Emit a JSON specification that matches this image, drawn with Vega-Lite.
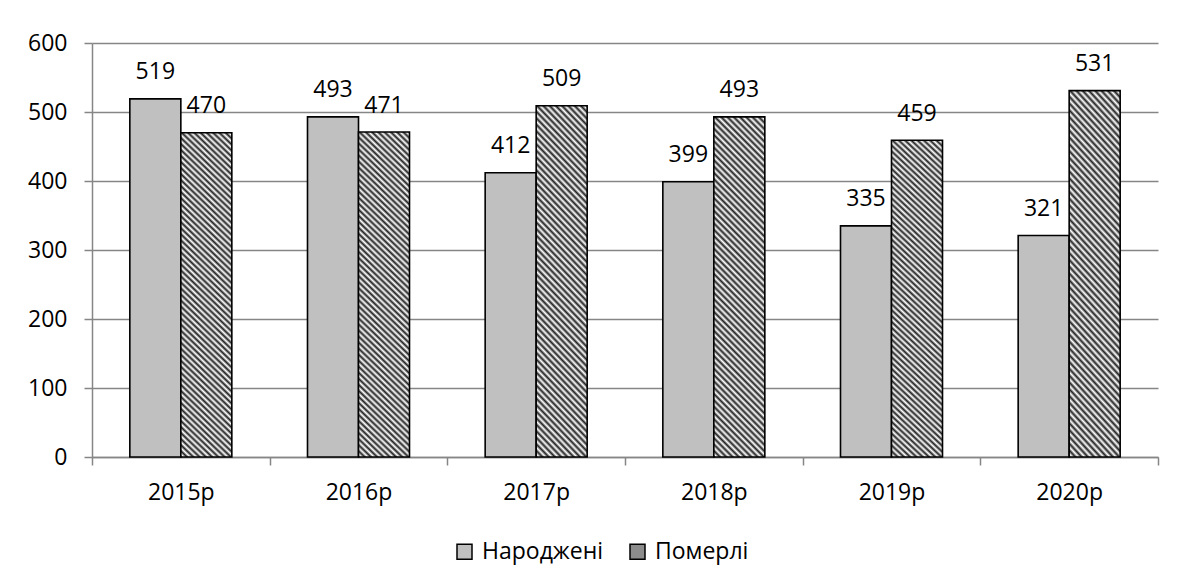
{
  "$schema": "https://vega.github.io/schema/vega-lite/v6.json",
  "width": 1066,
  "height": 414,
  "autosize": {"type": "none"},
  "padding": {"left": 92, "top": 43, "right": 19, "bottom": 126},
  "background": "white",
  "config": {"font": "Open Sans", "view": {"stroke": null}},
  "data": {
    "values": [
      {"year": "2015р", "s": "Народжені", "v": 519},
      {"year": "2015р", "s": "Померлі", "v": 470},
      {"year": "2016р", "s": "Народжені", "v": 493},
      {"year": "2016р", "s": "Померлі", "v": 471},
      {"year": "2017р", "s": "Народжені", "v": 412},
      {"year": "2017р", "s": "Померлі", "v": 509},
      {"year": "2018р", "s": "Народжені", "v": 399},
      {"year": "2018р", "s": "Померлі", "v": 493},
      {"year": "2019р", "s": "Народжені", "v": 335},
      {"year": "2019р", "s": "Померлі", "v": 459},
      {"year": "2020р", "s": "Народжені", "v": 321},
      {"year": "2020р", "s": "Померлі", "v": 531}
    ]
  },
  "encoding": {
    "x": {
      "field": "year", "type": "ordinal", "sort": null,
      "scale": {"paddingInner": 0, "paddingOuter": 0},
      "axis": {
        "title": null, "labelAngle": 0, "labelFontSize": 23, "labelColor": "black",
        "domainColor": "#868686", "domainWidth": 1.5, "tickColor": "#868686", "tickWidth": 1.5,
        "tickSize": 8, "tickBand": "extent", "labelPadding": 16, "grid": false
      }
    },
    "xOffset": {
      "field": "s", "type": "nominal", "sort": ["Народжені", "Померлі"],
      "scale": {"paddingInner": 0, "paddingOuter": 0.7418}
    },
    "y": {
      "field": "v", "type": "quantitative",
      "scale": {"domain": [0, 600], "nice": false},
      "axis": {
        "title": null, "values": [0, 100, 200, 300, 400, 500, 600],
        "labelFontSize": 23, "labelColor": "black",
        "domainColor": "#868686", "domainWidth": 1.5, "tickColor": "#868686", "tickWidth": 1.5,
        "tickSize": 8, "labelPadding": 17,
        "grid": true, "gridColor": "#868686", "gridWidth": 1.5
      }
    }
  },
  "layer": [
    {
      "mark": {"type": "bar", "stroke": "black", "strokeWidth": 1.6},
      "encoding": {
        "fill": {
          "condition": {
            "test": "datum.s === 'Померлі'",
            "value": {
              "gradient": "linear", "x1": 0, "y1": 1, "x2": 0.1703, "y2": -0.1256,
              "stops": [
                {"offset": 0, "color": "#222"}, {"offset": 0.0081, "color": "#fff"},
                {"offset": 0.0161, "color": "#222"}, {"offset": 0.0242, "color": "#fff"},
                {"offset": 0.0323, "color": "#222"}, {"offset": 0.0403, "color": "#fff"},
                {"offset": 0.0484, "color": "#222"}, {"offset": 0.0565, "color": "#fff"},
                {"offset": 0.0645, "color": "#222"}, {"offset": 0.0726, "color": "#fff"},
                {"offset": 0.0806, "color": "#222"}, {"offset": 0.0887, "color": "#fff"},
                {"offset": 0.0968, "color": "#222"}, {"offset": 0.1048, "color": "#fff"},
                {"offset": 0.1129, "color": "#222"}, {"offset": 0.121, "color": "#fff"},
                {"offset": 0.129, "color": "#222"}, {"offset": 0.1371, "color": "#fff"},
                {"offset": 0.1452, "color": "#222"}, {"offset": 0.1532, "color": "#fff"},
                {"offset": 0.1613, "color": "#222"}, {"offset": 0.1694, "color": "#fff"},
                {"offset": 0.1774, "color": "#222"}, {"offset": 0.1855, "color": "#fff"},
                {"offset": 0.1935, "color": "#222"}, {"offset": 0.2016, "color": "#fff"},
                {"offset": 0.2097, "color": "#222"}, {"offset": 0.2177, "color": "#fff"},
                {"offset": 0.2258, "color": "#222"}, {"offset": 0.2339, "color": "#fff"},
                {"offset": 0.2419, "color": "#222"}, {"offset": 0.25, "color": "#fff"},
                {"offset": 0.2581, "color": "#222"}, {"offset": 0.2661, "color": "#fff"},
                {"offset": 0.2742, "color": "#222"}, {"offset": 0.2823, "color": "#fff"},
                {"offset": 0.2903, "color": "#222"}, {"offset": 0.2984, "color": "#fff"},
                {"offset": 0.3065, "color": "#222"}, {"offset": 0.3145, "color": "#fff"},
                {"offset": 0.3226, "color": "#222"}, {"offset": 0.3306, "color": "#fff"},
                {"offset": 0.3387, "color": "#222"}, {"offset": 0.3468, "color": "#fff"},
                {"offset": 0.3548, "color": "#222"}, {"offset": 0.3629, "color": "#fff"},
                {"offset": 0.371, "color": "#222"}, {"offset": 0.379, "color": "#fff"},
                {"offset": 0.3871, "color": "#222"}, {"offset": 0.3952, "color": "#fff"},
                {"offset": 0.4032, "color": "#222"}, {"offset": 0.4113, "color": "#fff"},
                {"offset": 0.4194, "color": "#222"}, {"offset": 0.4274, "color": "#fff"},
                {"offset": 0.4355, "color": "#222"}, {"offset": 0.4435, "color": "#fff"},
                {"offset": 0.4516, "color": "#222"}, {"offset": 0.4597, "color": "#fff"},
                {"offset": 0.4677, "color": "#222"}, {"offset": 0.4758, "color": "#fff"},
                {"offset": 0.4839, "color": "#222"}, {"offset": 0.4919, "color": "#fff"},
                {"offset": 0.5, "color": "#222"}, {"offset": 0.5081, "color": "#fff"},
                {"offset": 0.5161, "color": "#222"}, {"offset": 0.5242, "color": "#fff"},
                {"offset": 0.5323, "color": "#222"}, {"offset": 0.5403, "color": "#fff"},
                {"offset": 0.5484, "color": "#222"}, {"offset": 0.5565, "color": "#fff"},
                {"offset": 0.5645, "color": "#222"}, {"offset": 0.5726, "color": "#fff"},
                {"offset": 0.5806, "color": "#222"}, {"offset": 0.5887, "color": "#fff"},
                {"offset": 0.5968, "color": "#222"}, {"offset": 0.6048, "color": "#fff"},
                {"offset": 0.6129, "color": "#222"}, {"offset": 0.621, "color": "#fff"},
                {"offset": 0.629, "color": "#222"}, {"offset": 0.6371, "color": "#fff"},
                {"offset": 0.6452, "color": "#222"}, {"offset": 0.6532, "color": "#fff"},
                {"offset": 0.6613, "color": "#222"}, {"offset": 0.6694, "color": "#fff"},
                {"offset": 0.6774, "color": "#222"}, {"offset": 0.6855, "color": "#fff"},
                {"offset": 0.6935, "color": "#222"}, {"offset": 0.7016, "color": "#fff"},
                {"offset": 0.7097, "color": "#222"}, {"offset": 0.7177, "color": "#fff"},
                {"offset": 0.7258, "color": "#222"}, {"offset": 0.7339, "color": "#fff"},
                {"offset": 0.7419, "color": "#222"}, {"offset": 0.75, "color": "#fff"},
                {"offset": 0.7581, "color": "#222"}, {"offset": 0.7661, "color": "#fff"},
                {"offset": 0.7742, "color": "#222"}, {"offset": 0.7823, "color": "#fff"},
                {"offset": 0.7903, "color": "#222"}, {"offset": 0.7984, "color": "#fff"},
                {"offset": 0.8065, "color": "#222"}, {"offset": 0.8145, "color": "#fff"},
                {"offset": 0.8226, "color": "#222"}, {"offset": 0.8306, "color": "#fff"},
                {"offset": 0.8387, "color": "#222"}, {"offset": 0.8468, "color": "#fff"},
                {"offset": 0.8548, "color": "#222"}, {"offset": 0.8629, "color": "#fff"},
                {"offset": 0.871, "color": "#222"}, {"offset": 0.879, "color": "#fff"},
                {"offset": 0.8871, "color": "#222"}, {"offset": 0.8952, "color": "#fff"},
                {"offset": 0.9032, "color": "#222"}, {"offset": 0.9113, "color": "#fff"},
                {"offset": 0.9194, "color": "#222"}, {"offset": 0.9274, "color": "#fff"},
                {"offset": 0.9355, "color": "#222"}, {"offset": 0.9435, "color": "#fff"},
                {"offset": 0.9516, "color": "#222"}, {"offset": 0.9597, "color": "#fff"},
                {"offset": 0.9677, "color": "#222"}, {"offset": 0.9758, "color": "#fff"},
                {"offset": 0.9839, "color": "#222"}, {"offset": 0.9919, "color": "#fff"},
                {"offset": 1, "color": "#222"}
              ]
            }
          },
          "field": "s", "type": "nominal", "sort": ["Народжені", "Померлі"],
          "scale": {"range": ["#c0c0c0", "#8c8c8c"]},
          "legend": {
            "orient": "none", "legendX": 361, "legendY": 497, "direction": "horizontal",
            "title": null, "symbolType": "square", "symbolSize": 225,
            "symbolStrokeColor": "black", "symbolStrokeWidth": 1.5,
            "labelFontSize": 23, "labelColor": "black", "labelOffset": 6, "columnPadding": 22,
            "encode": {
              "symbols": {
                "update": {
                  "stroke": {"value": "black"},
                  "strokeWidth": {"value": 1.5}
                }
              }
            }
          }
        }
      }
    },
    {
      "mark": {"type": "text", "baseline": "alphabetic", "dy": -19.5, "fontSize": 23, "color": "black"},
      "encoding": {"text": {"field": "v", "type": "quantitative"}}
    }
  ]
}
